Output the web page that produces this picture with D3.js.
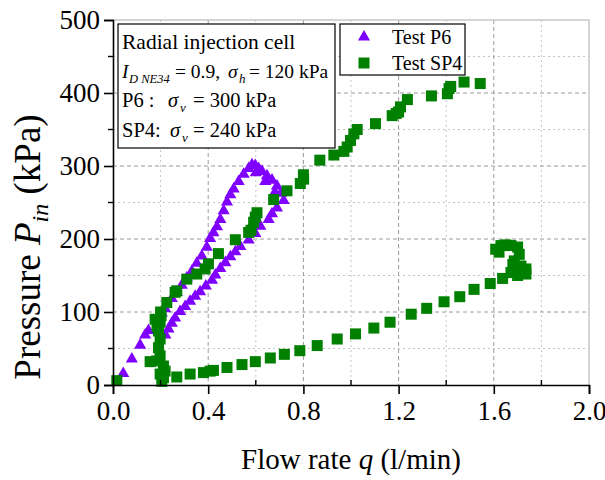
<!DOCTYPE html>
<html><head><meta charset="utf-8">
<script src="https://cdn.jsdelivr.net/npm/d3@7"></script>
<style>body{margin:0;background:#fff}svg{display:block}</style>
</head><body><svg id="c" width="605" height="480"></svg>
<script>
// ---- data ----
const p6Q = [0.043,0.079,0.114,0.135,0.149,0.184,0.205,0.219,0.247,0.268,0.289,0.31,0.331,0.352,0.373,0.394,0.408,0.422,0.437,0.451,0.465,0.479,0.493,0.507,0.528,0.549,0.57,0.584,0.598,
  0.612,0.626,0.647,0.668,0.689,0.705,0.717,0.6,0.64,0.68,
  0.689,0.668,0.654,0.619,0.598,0.57,0.535,0.514,0.493,0.472,0.451,0.43,0.416,0.39,0.366,0.345,0.324,0.303,0.282,0.261,0.247,0.233,0.22];
const p6P = [17,37,56,70,76,92,100,106,120,128,138,148,157,168,178,190,202,210,218,228,240,252,262,270,280,290,298,303,302,
  298,294,288,282,274,264,254,292,280,265,
  244,236,228,219,209,200,191,184,177,169,161,152,145,137,129,123,116,109,102,93,86,78,70];
const sp4Q = [0.016,
  0.205,0.212,0.198,0.219,0.212,0.184,0.156,0.198,0.191,0.198,0.191,0.198,0.202,0.177,0.185,0.2,
  0.268,0.324,0.38,0.408,0.422,0.479,0.542,0.598,0.661,0.72,0.785,0.858,0.942,1.019,1.096,1.164,1.253,1.318,1.391,1.457,1.517,1.585,1.637,1.672,1.714,1.735,1.7,1.735,
  1.608,1.622,1.63,1.65,1.672,1.70,1.707,1.686,1.68,1.714,
  0.226,0.261,0.268,0.31,0.352,0.387,0.401,0.443,0.514,0.57,0.58,0.591,0.598,0.605,0.675,0.731,0.787,0.801,0.8,0.869,0.928,0.97,0.984,0.998,1.012,1.026,1.103,1.173,1.19,1.2,1.208,1.237,1.338,1.405,1.412,1.419,1.475,1.543];
const sp4P = [6,
  5,10,15,19,26,33,32,40,51,63,74,86,95,90,80,100,
  11,15,17,19,20,24,28,32,37,42,47,54,63,70,78,86,97,105,114,121,131,139,146,154,157,159,150,152,
  186,182,191,192,191,189,179,170,165,163,
  113,127,129,145,152,159,166,180,199,209,212,223,230,236,254,266,276,282,288,308,315,320,326,335,344,350,358,369,372,374,381,391,396,399,406,409,415,413];
const xTickValues = [0,0.4,0.8,1.2,1.6,2.0];
const xTickLabels = ["0.0","0.4","0.8","1.2","1.6","2.0"];
const yTickValues = [0,100,200,300,400,500];
const yTickLabels = ["0","100","200","300","400","500"];
const seriesNames = ["Test P6","Test SP4"];

// ---- layout ----
const FONT = "'Liberation Serif', 'Times New Roman', Tinos, 'DejaVu Serif', serif";
const svg = d3.select("#c").style("font-family", FONT);
const L = 113, R = 589, T = 20, B = 385;
const x = d3.scaleLinear().domain([0,2]).range([L,R]);
const y = d3.scaleLinear().domain([0,500]).range([B,T]);
const purple = "#8000ff", green = "#008000";

// grid
const g = svg.append("g");
const xMinor = d3.range(0.2,2.0,0.4), yMinor = d3.range(50,500,100);
g.selectAll(".gxm").data(xMinor).join("line").attr("x1",d=>x(d)).attr("x2",d=>x(d)).attr("y1",T).attr("y2",B)
  .attr("stroke","#c4c4c4").attr("stroke-dasharray","2,3");
g.selectAll(".gym").data(yMinor).join("line").attr("x1",L).attr("x2",R).attr("y1",d=>y(d)).attr("y2",d=>y(d))
  .attr("stroke","#c4c4c4").attr("stroke-dasharray","2,3");
g.selectAll(".gx").data(xTickValues.slice(1,-1)).join("line").attr("x1",d=>x(d)).attr("x2",d=>x(d)).attr("y1",T).attr("y2",B)
  .attr("stroke","#9a9a9a").attr("stroke-dasharray","4,3");
g.selectAll(".gy").data(yTickValues.slice(1,-1)).join("line").attr("x1",L).attr("x2",R).attr("y1",d=>y(d)).attr("y2",d=>y(d))
  .attr("stroke","#9a9a9a").attr("stroke-dasharray","4,3");
svg.append("path").attr("d",`M${L},${T}H${R}V${B}`).attr("fill","none").attr("stroke","#c8c8c8").attr("stroke-width",1.5);

// markers
const tri = d3.symbol().type(d3.symbolTriangle).size(64);
svg.append("g").selectAll("path").data(p6Q.map((q,i)=>[q,p6P[i]])).join("path")
  .attr("d",tri).attr("transform",d=>`translate(${x(d[0])},${y(d[1])+1})`).attr("fill",purple);
svg.append("g").selectAll("rect").data(sp4Q.map((q,i)=>[q,sp4P[i]])).join("rect")
  .attr("x",d=>x(d[0])-5.5).attr("y",d=>y(d[1])-5.5).attr("width",11).attr("height",11).attr("fill",green);

// axes
const xAxis = d3.axisBottom(x).tickValues(xTickValues).tickFormat((d,i)=>xTickLabels[i]).tickSize(9).tickPadding(7);
const yAxis = d3.axisLeft(y).tickValues(yTickValues).tickFormat((d,i)=>yTickLabels[i]).tickSize(9).tickPadding(4);
const gx = svg.append("g").attr("transform",`translate(0,${B})`).call(xAxis);
const gy = svg.append("g").attr("transform",`translate(${L},0)`).call(yAxis);
[gx,gy].forEach(a=>{a.attr("font-family",null);a.select(".domain").attr("stroke","#000").attr("stroke-width",1.6);
  a.selectAll(".tick line").attr("stroke","#000").attr("stroke-width",1.6);
  a.selectAll(".tick text").style("font-family",FONT).attr("font-size",27).attr("fill","#000");});
svg.append("g").selectAll("line").data(xMinor).join("line").attr("x1",d=>x(d)).attr("x2",d=>x(d)).attr("y1",B).attr("y2",B-5).attr("stroke","#000").attr("stroke-width",1.4);
svg.append("g").selectAll("line").data(yMinor).join("line").attr("x1",L).attr("x2",L-5).attr("y1",d=>y(d)).attr("y2",d=>y(d)).attr("stroke","#000").attr("stroke-width",1.4);

// axis titles
const xt = svg.append("text").attr("x",351).attr("y",469).attr("text-anchor","middle").attr("font-size",29).style("font-family",FONT);
xt.append("tspan").text("Flow rate ");
xt.append("tspan").attr("font-style","italic").text("q");
xt.append("tspan").text(" (l/min)");
const yt = svg.append("text").attr("transform","translate(40,247) rotate(-90)").attr("text-anchor","middle").attr("font-size",37).style("font-family",FONT);
yt.append("tspan").text("Pressure ");
yt.append("tspan").attr("font-style","italic").text("P");
yt.append("tspan").attr("font-style","italic").attr("font-size",24).attr("dy",8).text("in");
yt.append("tspan").attr("dy",-8).text(" (kPa)");

// annotation box
svg.append("rect").attr("x",118).attr("y",24).attr("width",217).attr("height",124).attr("fill","#fff").attr("stroke","#000").attr("stroke-width",1.2);
const fs = 20.5;
function piece(xp,yp,t,opt={}){const e=svg.append("text").attr("x",xp).attr("y",yp).attr("font-size",opt.size||fs).style("font-family",FONT).text(t);if(opt.it)e.attr("font-style","italic");return e;}
piece(122,49,"Radial injection cell").attr("font-size",21.5);
piece(122,78,"I",{it:1,size:19.5}); piece(129,83,"D NE34",{it:1,size:12.5}); piece(175,78,"= 0.9,",{size:19.5});
piece(228,78,"σ",{it:1,size:19.5}); piece(239,83,"h",{it:1,size:13}); piece(249,78,"= 120 kPa",{size:19.5});
piece(122,107,"P6 :"); piece(168,107,"σ",{it:1}); piece(180,112,"v",{it:1,size:13}); piece(193,107,"= 300 kPa");
piece(122,137,"SP4:"); piece(170,137,"σ",{it:1}); piece(182,142,"v",{it:1,size:13}); piece(193,137,"= 240 kPa");

// legend
svg.append("rect").attr("x",340).attr("y",24).attr("width",125).attr("height",51).attr("fill","#fff").attr("stroke","#000").attr("stroke-width",1.2);
svg.append("path").attr("d",tri).attr("transform","translate(364,37)").attr("fill",purple);
svg.append("rect").attr("x",358.5).attr("y",57.5).attr("width",11).attr("height",11).attr("fill",green);
piece(392,44,seriesNames[0],{size:20});
piece(392,70,seriesNames[1],{size:20});
</script></body></html>
